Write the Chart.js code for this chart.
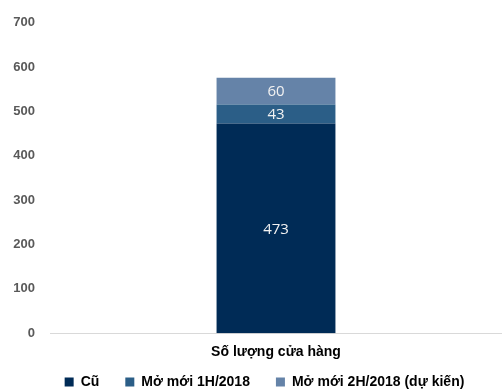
<!DOCTYPE html>
<html>
<head>
<meta charset="utf-8">
<script src="https://cdn.jsdelivr.net/npm/chart.js@4"></script>
<style>
html,body{margin:0;padding:0;background:#fff;overflow:hidden;}
#wrap{width:502px;height:390px;position:relative;}
</style>
</head>
<body>
<div id="wrap"><canvas id="c" width="502" height="390"></canvas></div>
<script>
const categories = ["Số lượng cửa hàng"];
const seriesNames = ["Cũ", "Mở mới 1H/2018", "Mở mới 2H/2018 (dự kiến)"];
const oldStores = [473];
const new1H = [43];
const new2H = [60];
const yTicks = [0, 100, 200, 300, 400, 500, 600, 700];

const colors = ["#002b56", "#2b5e87", "#6583a8"];

const labelPlugin = {
  id: "segLabels",
  afterDatasetsDraw(chart) {
    const ctx = chart.ctx;
    ctx.save();
    ctx.fillStyle = "#f2f2f2";
    ctx.font = "15px 'Open Sans', 'Noto Sans', sans-serif";
    ctx.textAlign = "center";
    ctx.textBaseline = "middle";
    chart.data.datasets.forEach((ds, i) => {
      const meta = chart.getDatasetMeta(i);
      meta.data.forEach((bar, j) => {
        const p = bar.getProps(["x", "y", "base"], true);
        ctx.fillText(String(ds.data[j]), p.x, (p.y + p.base) / 2 + 1);
      });
    });
    ctx.restore();
  }
};

// Legend fine placement: shrink its reserved height, move it up and right a little
const legendTweak = {
  id: "legendTweak",
  beforeLayout(chart) {
    const lg = chart.legend;
    if (lg && !lg._tweaked) {
      const f = lg.fit;
      lg.fit = function () { f.call(this); this.height -= 32; };
      lg._tweaked = true;
    }
  },
  afterLayout(chart) {
    const lg = chart.legend;
    if (lg) { lg.top -= 23; lg.left += 27; }
  }
};

new Chart(document.getElementById("c"), {
  type: "bar",
  data: {
    labels: categories,
    datasets: [
      { label: seriesNames[0], data: oldStores, backgroundColor: colors[0] },
      { label: seriesNames[1], data: new1H, backgroundColor: colors[1] },
      { label: seriesNames[2], data: new2H, backgroundColor: colors[2] }
    ]
  },
  options: {
    responsive: false,
    animation: false,
    devicePixelRatio: 1,
    layout: { padding: { top: 20, left: 0, right: 0, bottom: 0 } },
    datasets: { bar: { categoryPercentage: 1, barPercentage: 0.263 } },
    scales: {
      x: {
        stacked: true,
        grid: { display: false, drawTicks: false },
        border: { display: true, color: "#d9d9d9", width: 1 },
        ticks: {
          color: "#000",
          font: { family: "'Liberation Sans', Arial, sans-serif", size: 14, weight: "bold" },
          padding: 11
        }
      },
      y: {
        stacked: true,
        min: 0, max: 700,
        afterBuildTicks(scale) { scale.ticks = yTicks.map(v => ({ value: v })); },
        afterFit(scale) { scale.width = 50; },
        grid: { display: false, drawTicks: false },
        border: { display: false },
        ticks: {
          color: "#595959",
          padding: 15,
          font: { family: "'Liberation Sans', Arial, sans-serif", size: 13, weight: "bold" }
        }
      }
    },
    plugins: {
      legend: {
        position: "bottom",
        labels: {
          boxWidth: 9, boxHeight: 9,
          padding: 26,
          color: "#000",
          font: { family: "'Liberation Sans', Arial, sans-serif", size: 14, weight: "bold" }
        }
      },
      tooltip: { enabled: false }
    }
  },
  plugins: [legendTweak, labelPlugin]
});
</script>
</body>
</html>
